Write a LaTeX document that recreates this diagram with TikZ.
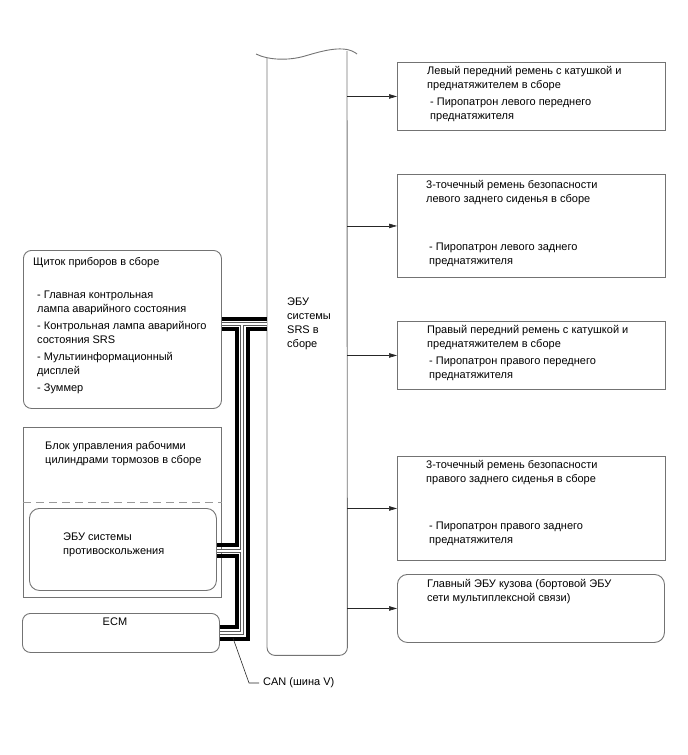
\documentclass[tikz,border=0pt]{standalone}
\usepackage{fontspec}
\setmainfont{Liberation Sans}
\usetikzlibrary{arrows.meta,positioning,calc}
\colorlet{frameC}{black!55}
\colorlet{wireC}{black!65}

\tikzset{
  txt/.style={font=\fontsize{11}{14}\selectfont, align=left, anchor=north west, inner sep=0pt},
  sqbox/.style={draw=frameC, line width=0.9pt, inner sep=0pt, anchor=north west},
  rbox/.style={sqbox, rounded corners=8pt},
  arr/.style={draw=black!85, line width=0.6pt, -{Triangle[length=8pt,width=4.5pt]}},
  canhi/.style={draw=black, line width=3.2pt, line join=miter},
  canout/.style={draw=wireC, line width=3.8pt, line join=miter},
  canin/.style={draw=white, line width=1.5pt, line join=miter},
}

\begin{document}
\begin{tikzpicture}[x=1pt,y=-1pt]
  \useasboundingbox (0,0) rectangle (688,755);

  % --- ECU column (SRS) ---
  \node[inner sep=0pt, anchor=north west, minimum width=80pt, minimum height=597pt] (srs) at (267,58) {};
  \coordinate (srsTR) at (347,51);
  \draw[frameC, line width=0.9pt]
    (256,54) .. controls (268,60) and (288,61) .. (305,56)
    .. controls (322,51) and (345,44) .. (357,54);
  \draw[frameC, line width=0.9pt, rounded corners=8pt]
    (srs.north west) -- (srs.south west) -- (srs.south east) -- (srsTR);
  \node[txt, below right=240pt and 20pt of srs.north west] (srsT) {ЭБУ\\системы\\SRS в\\сборе};

  % --- boxes on the right ---
  \node[sqbox, minimum width=268pt, minimum height=68pt] (frL) at (397,62) {};
  \node[sqbox, minimum width=268pt, minimum height=103pt] (rrL) at (397,174) {};
  \node[sqbox, minimum width=268pt, minimum height=68pt] (frR) at (397,321) {};
  \node[sqbox, minimum width=268pt, minimum height=104pt] (rrR) at (397,456) {};
  \node[rbox, rounded corners=10pt, minimum width=267pt, minimum height=68pt] (mbecu) at (397,574) {};

  \node[txt, below right=4pt and 30pt of frL.north west] (frLT) {Левый передний ремень с катушкой и\\преднатяжителем в сборе};
  \node[txt, below right=36pt and 33pt of frL.north west] (frLI) {- Пиропатрон левого переднего\\преднатяжителя};
  \node[txt, below right=6pt and 29pt of rrL.north west] (rrLT) {3-точечный ремень безопасности\\левого заднего сиденья в сборе};
  \node[txt, below right=69pt and 32pt of rrL.north west] (rrLI) {- Пиропатрон левого заднего\\преднатяжителя};
  \node[txt, below right=4pt and 30pt of frR.north west] (frRT) {Правый передний ремень с катушкой и\\преднатяжителем в сборе};
  \node[txt, below right=36pt and 32pt of frR.north west] (frRI) {- Пиропатрон правого переднего\\преднатяжителя};
  \node[txt, below right=4pt and 29pt of rrR.north west] (rrRT) {3-точечный ремень безопасности\\правого заднего сиденья в сборе};
  \node[txt, below right=66pt and 32pt of rrR.north west] (rrRI) {- Пиропатрон правого заднего\\преднатяжителя};
  \node[txt, below right=5pt and 30pt of mbecu.north west] (mbecuT) {Главный ЭБУ кузова (бортовой ЭБУ\\сети мультиплексной связи)};

  % --- arrows to the right boxes ---
  \foreach \b in {frL,rrL,frR,rrR,mbecu}
    \draw[arr] (srs.east |- \b.west) -- (\b.west);

  % --- boxes on the left ---
  \node[rbox, minimum width=198pt, minimum height=158pt] (ipc) at (23,250) {};
  \node[sqbox, minimum width=198pt, minimum height=170pt] (brk) at (23,427) {};
  \node[rbox, rounded corners=10pt, minimum width=187pt, minimum height=82pt] (abs) at (29,508) {};
  \node[rbox, minimum width=197pt, minimum height=39pt] (ecm) at (22,613) {};
  \draw[black!40, line width=0.9pt, dash pattern=on 8pt off 5pt] (brk.west |- 0,502) -- (brk.east |- 0,502);

  \node[txt, below right=7pt and 10pt of ipc.north west] (ipcT) {Щиток приборов в сборе};
  \node[txt, below right=41pt and 14pt of ipc.north west] (ipcI) {- Главная контрольная\\лампа аварийного состояния\\[3pt]- Контрольная лампа аварийного\\состояния SRS\\[3pt]- Мультиинформационный\\дисплей\\[3pt]- Зуммер};
  \node[txt, below right=14pt and 22pt of brk.north west] (brkT) {Блок управления рабочими\\цилиндрами тормозов в сборе};
  \node[txt, below right=25pt and 34pt of abs.north west] (absT) {ЭБУ системы\\противоскольжения};
  \node[txt, anchor=north, below=5pt of ecm.north, xshift=-6pt] (ecmT) {ECM};

  % --- CAN bus wires ---
  \draw[canhi] (ipc.east |- 0,319) -- (srs.west |- 0,319);
  \draw[canhi] (ipc.east |- 0,329) -- (237,329) -- (237,545) -- (abs.east |- 0,545);
  \draw[canhi] (abs.east |- 0,556) -- (237,556) -- (237,627) -- (ecm.east |- 0,627);
  \draw[canhi] (srs.west |- 0,329) -- (248,329) -- (248,639) -- (ecm.east |- 0,639);
  \foreach \st in {canout,canin} {
    \draw[\st] (ipc.east |- 0,324) -- (srs.west |- 0,324);
    \draw[\st] (242,324) -- (242,633) -- (ecm.east |- 0,633);
    \draw[\st] (abs.east |- 0,551) -- (242,551);
  }

  % --- CAN label ---
  \node[txt, anchor=west] (can) at (263,683) {CAN (шина V)};
  \coordinate (canP) at (233,638);
  \draw[black!85, line width=0.6pt] (canP) -- (249,683) -- ([xshift=-4pt]can.west);
\end{tikzpicture}
\end{document}
